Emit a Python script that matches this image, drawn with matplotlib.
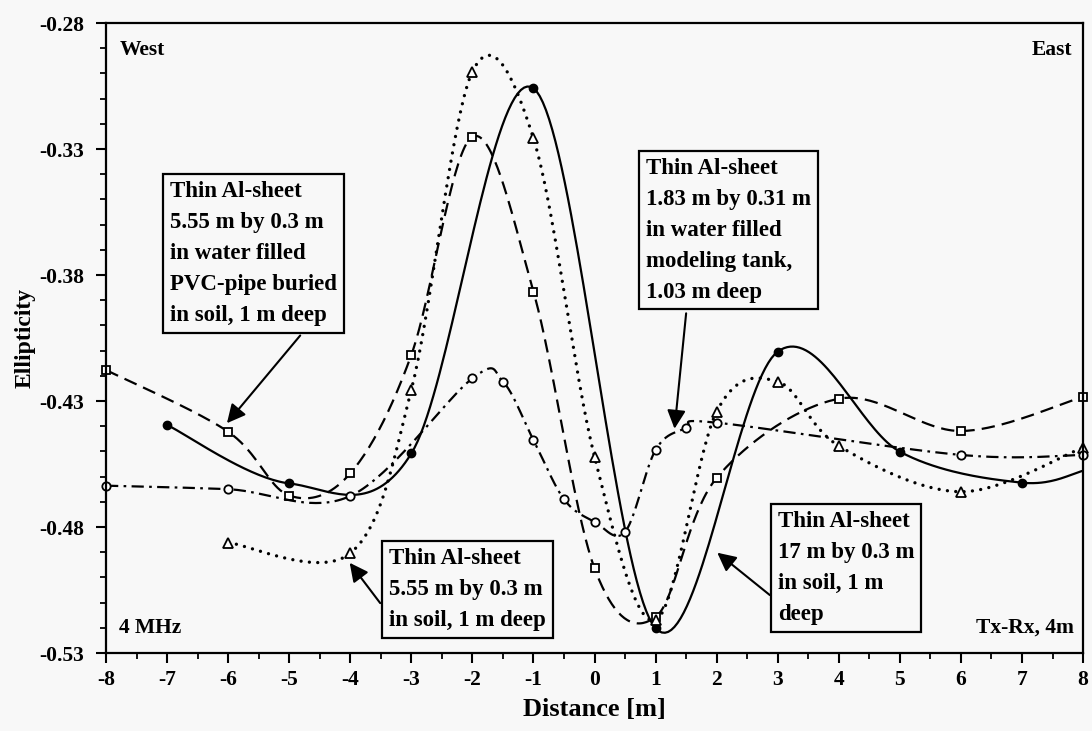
import numpy as np
import matplotlib
matplotlib.use("Agg")
import matplotlib.pyplot as plt
from matplotlib.ticker import MultipleLocator, FormatStrFormatter

# ---------------- data ----------------
solid_x = [-7, -5, -3, -1, 1, 3, 5, 7, 8]
solid_y = [-0.4395, -0.4627, -0.4508, -0.3059, -0.5202, -0.4104, -0.4501, -0.4624, -0.4577]

square_x = [-8, -6, -5, -4, -3, -2, -1, 0, 1, 2, 4, 6, 8]
square_y = [-0.4177, -0.4422, -0.4675, -0.4587, -0.4117, -0.3251, -0.3866, -0.4964,
            -0.5157, -0.4605, -0.4291, -0.4419, -0.4283]

tri_x = [-6, -4, -3, -2, -1, 0, 1, 2, 3, 4, 6, 8]
tri_y = [-0.4862, -0.4904, -0.4256, -0.2993, -0.3258, -0.4521, -0.5170, -0.4342,
         -0.4223, -0.4478, -0.4660, -0.4485]

circ_x = [-8, -6, -4, -2, -1.5, -1, -0.5, 0, 0.5, 1, 1.5, 2, 6, 8]
circ_y = [-0.4636, -0.4650, -0.4677, -0.4210, -0.4223, -0.4455, -0.4690, -0.4779,
          -0.4819, -0.4494, -0.4408, -0.4386, -0.4514, -0.4514]

x_ticks = list(range(-8, 9))
y_ticks = [-0.53, -0.48, -0.43, -0.38, -0.33, -0.28]

label_pipe = "Thin Al-sheet\n5.55 m by 0.3 m\nin water filled\nPVC-pipe buried\nin soil, 1 m deep"
label_tank = "Thin Al-sheet\n1.83 m by 0.31 m\nin water filled\nmodeling tank,\n1.03 m deep"
label_soil = "Thin Al-sheet\n5.55 m by 0.3 m\nin soil, 1 m deep"
label_long = "Thin Al-sheet\n17 m by 0.3 m\nin soil, 1 m\ndeep"


def smooth(xs, ys, n=40):
    """Catmull-Rom smoothing through the given points."""
    P = np.column_stack([xs, ys]).astype(float)
    P = np.vstack([P[0], P, P[-1]])
    out = []
    t = np.linspace(0, 1, n)[:, None]
    for i in range(1, len(P) - 2):
        p0, p1, p2, p3 = P[i - 1], P[i], P[i + 1], P[i + 2]
        m1 = (p2 - p0) / 2.0
        m2 = (p3 - p1) / 2.0
        h00 = 2 * t**3 - 3 * t**2 + 1
        h10 = t**3 - 2 * t**2 + t
        h01 = -2 * t**3 + 3 * t**2
        h11 = t**3 - t**2
        seg = h00 * p1 + h10 * m1 + h01 * p2 + h11 * m2
        out.append(seg if i == 1 else seg[1:])
    s = np.vstack(out)
    return s[:, 0], s[:, 1]


plt.rcParams['font.family'] = ['Liberation Serif', 'DejaVu Serif']
plt.rcParams['font.weight'] = 'bold'
plt.rcParams['axes.unicode_minus'] = False

bg = '#f8f8f8'
fig = plt.figure(figsize=(10.92, 7.31), dpi=100, facecolor=bg)
ax = fig.add_axes([0.0971, 0.1067, 0.8947, 0.8618], facecolor=bg)

lw = 1.6
# solid series
sx, sy = smooth(solid_x, solid_y)
ax.plot(sx, sy, color='black', lw=lw, ls='-', solid_capstyle='round')
ax.plot(solid_x[:-1], solid_y[:-1], ls='none', marker='o', ms=6, color='black')

# dashed squares
sx, sy = smooth(square_x, square_y)
ax.plot(sx, sy, color='black', lw=lw, ls=(0, (6, 3.2)))
ax.plot(square_x, square_y, ls='none', marker='s', ms=6, mfc='white', mec='black', mew=1.3,
        clip_on=False)

# dotted triangles
sx, sy = smooth(tri_x, tri_y)
ax.plot(sx, sy, color='black', lw=lw + 0.8, ls=(0, (0.01, 2.5)), dash_capstyle='round')
ax.plot(tri_x, tri_y, ls='none', marker='^', ms=6.5, mfc='white', mec='black', mew=1.3,
        clip_on=False)

# dash-dot circles
sx, sy = smooth(circ_x, circ_y)
ax.plot(sx, sy, color='black', lw=lw, ls=(0, (5.5, 2.4, 1.2, 2.4)))
ax.plot(circ_x, circ_y, ls='none', marker='o', ms=6, mfc='white', mec='black', mew=1.3,
        clip_on=False)

ax.set_xlim(-8, 8)
ax.set_ylim(-0.53, -0.28)
ax.set_xticks(x_ticks)
ax.set_yticks(y_ticks)
ax.xaxis.set_minor_locator(MultipleLocator(0.5))
ax.yaxis.set_minor_locator(MultipleLocator(0.01))
ax.yaxis.set_major_formatter(FormatStrFormatter('%.2f'))
ax.tick_params(which='major', direction='out', length=7, width=1.5, labelsize=15.5)
ax.tick_params(which='minor', direction='out', length=4.5, width=1.3)
ax.tick_params(axis='y', which='major', pad=9)
ax.tick_params(axis='x', which='major', pad=5)
for s in ax.spines.values():
    s.set_linewidth(1.6)

ax.set_xlabel('Distance [m]', fontsize=19, fontweight='bold', labelpad=6)
ax.set_ylabel('Ellipticity', fontsize=17, fontweight='bold', labelpad=2)

# corner labels
ax.text(-7.78, -0.2907, 'West', fontsize=15.5, ha='left', va='center')
ax.text(7.82, -0.2907, 'East', fontsize=15.5, ha='right', va='center')
ax.text(-7.78, -0.5200, '4 MHz', fontsize=15.5, ha='left', va='center')
ax.text(7.85, -0.5200, 'Tx-Rx, 4m', fontsize=15.5, ha='right', va='center')

box = dict(boxstyle='square,pad=0.3', fc=bg, ec='black', lw=1.6)
tk = dict(fontsize=16.5, ha='left', va='top', linespacing=1.62, bbox=box)
ax.text(-6.954, -0.3427, label_pipe, **tk)
ax.text(0.842, -0.3335, label_tank, **tk)
ax.text(-3.367, -0.4883, label_soil, **tk)
ax.text(3.004, -0.4736, label_long, **tk)

arr = dict(arrowstyle='-|>', mutation_scale=28, lw=1.5, color='black',
           shrinkA=0, shrinkB=0)
ax.annotate('', xy=(-6.02, -0.4388), xytext=(-4.82, -0.4040), arrowprops=arr)
ax.annotate('', xy=(1.31, -0.4410), xytext=(1.50, -0.3952), arrowprops=arr)
ax.annotate('', xy=(-4.01, -0.4942), xytext=(-3.51, -0.5102), arrowprops=arr)
ax.annotate('', xy=(2.01, -0.4902), xytext=(2.87, -0.5070), arrowprops=arr)

fig.savefig('out.png', dpi=100, facecolor=bg)
